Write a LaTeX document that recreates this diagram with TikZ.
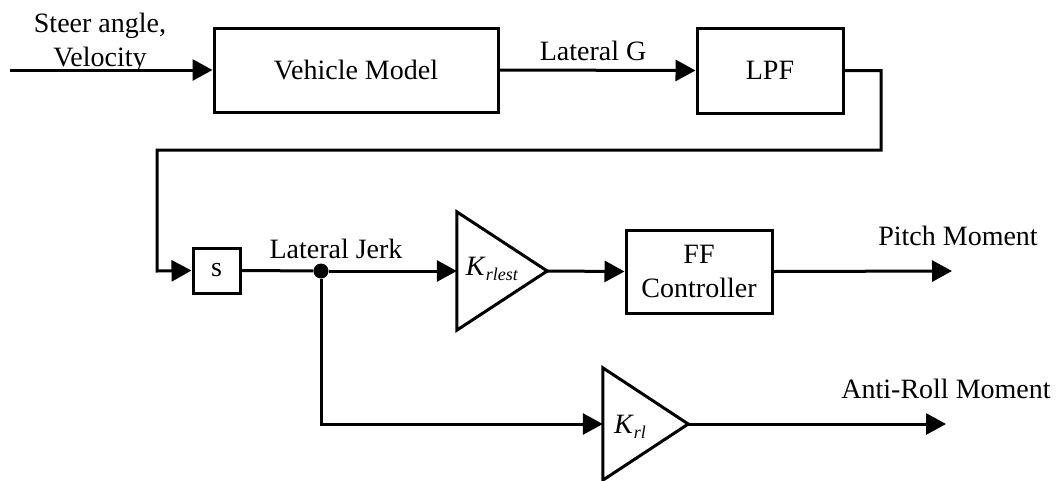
\documentclass[tikz,border=0pt]{standalone}
\usepackage{fontspec}
\setmainfont{Liberation Serif}
\usetikzlibrary{arrows.meta}

% gain symbol: italic letter with a lowered italic index
\newcommand\gainsym[2]{\textit{#1}\raisebox{-5pt}{\fontsize{18}{18}\selectfont\textit{#2}}}

\begin{document}
\begin{tikzpicture}[x=1pt,y=-1pt,
  font=\fontsize{28}{33.6}\selectfont,
  wire/.style={line width=3pt},
  sig/.style={wire,-{Triangle[length=20pt,width=21pt]}},
  block/.style={draw,line width=3pt,rectangle,inner sep=0pt,align=center},
  ampbox/.style={rectangle,inner sep=0pt,minimum width=90pt},
  lbl/.style={inner sep=0pt,anchor=base},
  dot/.style={circle,fill,inner sep=0pt,minimum size=15pt}
]
\useasboundingbox (0,0) rectangle (1056,480);

% blocks
\node[block,minimum width=284pt,minimum height=84pt] (veh) at (356,70) {Vehicle Model};
\node[block,minimum width=146pt,minimum height=85pt] (lpf) at (770,70.5) {LPF};
\node[block,minimum width=47pt,minimum height=45pt] (sblk) at (216.5,270.5) {s};
\node[block,minimum width=146pt,minimum height=83pt] (ff) at (699,271.5) {FF\\Controller};

% gain triangles
\node[ampbox,minimum height=118pt] (k1) at (502,271) {};
\draw[wire,line join=miter] (k1.north west) -- (k1.east) -- (k1.south west) -- cycle;
\node[lbl] (k1t) at (492,275) {\gainsym{K}{rlest}};

\node[ampbox,minimum width=85pt,minimum height=112pt] (k2) at (645.5,424) {};
\draw[wire,line join=miter] (k2.north west) -- (k2.east) -- (k2.south west) -- cycle;
\node[lbl] (k2t) at (630,433) {\gainsym{K}{rl}};

% signal points
\coordinate (in) at (10,70);
\node[dot] (jn) at (321,271) {};
\coordinate (pitch) at (952,271);
\coordinate (roll) at (946,424);

% labels
\node[inner sep=0pt,anchor=north,align=center] (inlbl) at (100,13) {Steer angle,\\Velocity};
\node[lbl] (latg) at (593,60) {Lateral G};
\node[lbl] (latj) at (336,258) {Lateral Jerk};
\node[lbl] (pm) at (958,245) {Pitch Moment};
\node[lbl] (arm) at (946,398) {Anti-Roll Moment};

% connectors
\draw[sig] (in) -- (veh.west);
\draw[sig] (veh.east) -- (lpf.west);
\draw[sig] (lpf.east) -| (881,150) -| (157,271) -- (sblk.west);
\draw[wire] (sblk.east) -- (jn);
\draw[sig] (jn) -- (k1.west);
\draw[sig] (k1.east) -- (ff.west);
\draw[sig] (ff.east) -- (pitch);
\draw[sig] (jn) |- (k2.west);
\draw[sig] (k2.east) -- (roll);
\end{tikzpicture}
\end{document}
